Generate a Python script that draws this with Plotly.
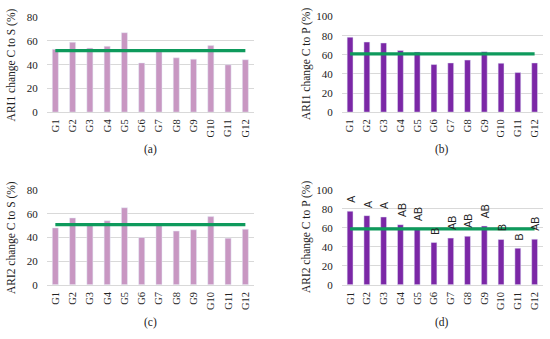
import plotly.graph_objects as go

groups = ["G1", "G2", "G3", "G4", "G5", "G6", "G7", "G8", "G9", "G10", "G11", "G12"]

ari1_c_to_s = [53, 59, 54, 55.5, 67, 41.5, 52, 45.8, 44.7, 56.1, 39.9, 44.2]
ari1_c_to_s_mean = 51.8
ari1_c_to_p = [78.5, 73.4, 72.4, 64.6, 63, 49.8, 51.5, 54.5, 63.3, 51.2, 41.4, 51.5]
ari1_c_to_p_mean = 61
ari2_c_to_s = [48, 56.4, 51.3, 54, 65, 39.9, 50.7, 45.3, 46.4, 57.5, 39.3, 46.9]
ari2_c_to_s_mean = 50.7
ari2_c_to_p = [77.6, 72.9, 71.5, 63.4, 59, 44.7, 49.2, 51.2, 62, 47.8, 38.6, 48.1]
ari2_c_to_p_mean = 59
ari2_c_to_p_letters = ["A", "A", "A", "AB", "AB", "B", "AB", "AB", "AB", "B", "B", "AB"]

PINK = "#C897C2"
PURPLE = "#7B27A6"
GREEN = "#0E9A5C"
SERIF = "Liberation Serif"

W, H = 550, 339


def fx(px):
    return px / W


def fy(py):
    return 1 - py / H


panels = [
    # values, mean, color, ymax, title, label, x pixel span, y pixel span (top, bottom)
    (ari1_c_to_s, ari1_c_to_s_mean, PINK, 80, "ARI1 change C to S (%)", "(a)",
     (46.7, 254), (11.7, 110)),
    (ari1_c_to_p, ari1_c_to_p_mean, PURPLE, 100, "ARI1 change C to P (%)", "(b)",
     (341.7, 543), (11, 110)),
    (ari2_c_to_s, ari2_c_to_s_mean, PINK, 80, "ARI2 change C to S (%)", "(c)",
     (46.7, 254), (190.7, 289)),
    (ari2_c_to_p, ari2_c_to_p_mean, PURPLE, 100, "ARI2 change C to P (%)", "(d)",
     (341.7, 543), (190.7, 289)),
]

fig = go.Figure()
annotations = []
layout = {}
for i, (vals, mean, color, ymax, title, label, xs, ys) in enumerate(panels, start=1):
    xa = "x" if i == 1 else f"x{i}"
    ya = "y" if i == 1 else f"y{i}"
    xd = [fx(xs[0]), fx(xs[1])]
    yd = [fy(ys[1]), fy(ys[0])]
    fig.add_trace(go.Bar(x=groups, y=vals, marker_color=color, width=0.35,
                         xaxis=xa, yaxis=ya, showlegend=False))
    fig.add_trace(go.Scatter(x=groups, y=[mean] * len(groups), mode="lines",
                             line=dict(color=GREEN, width=3.2),
                             xaxis=xa, yaxis=ya, showlegend=False))
    layout[f"xaxis{'' if i == 1 else i}"] = dict(
        domain=xd, anchor=ya, type="category", range=[-0.5, 11.5],
        tickangle=-90, tickfont=dict(family=SERIF, size=10.5, color="#222"),
        showgrid=False, showline=True, linecolor="#D9D9D9", linewidth=1,
        ticks="", ticklabelstandoff=2,
    )
    layout[f"yaxis{'' if i == 1 else i}"] = dict(
        domain=yd, anchor=xa, range=[0, ymax], dtick=20,
        tickfont=dict(family=SERIF, size=11, color="#222"),
        showgrid=True, gridcolor="#D9D9D9", gridwidth=1, zeroline=False,
        showline=False, ticks="", ticklabelstandoff=8,
    )
    # y-axis title
    annotations.append(dict(
        text=title, textangle=-90, xref="paper", yref="paper",
        x=fx(xs[0] - 35), y=(yd[0] + yd[1]) / 2, xanchor="center", yanchor="middle",
        showarrow=False, font=dict(family=SERIF, size=11.5, color="#222"),
    ))
    # panel label
    annotations.append(dict(
        text=label, xref="paper", yref="paper",
        x=(xd[0] + xd[1]) / 2, y=fy(ys[1] + 39), xanchor="center", yanchor="middle",
        showarrow=False, font=dict(family=SERIF, size=11.5, color="#222"),
    ))

# significance letters on panel (d)
for g, v, letter in zip(groups, ari2_c_to_p, ari2_c_to_p_letters):
    annotations.append(dict(
        text=letter, x=g, y=v, xref="x4", yref="y4", textangle=-90,
        xanchor="center", yanchor="bottom", yshift=6, xshift=1, showarrow=False,
        font=dict(family="Liberation Sans", size=10.5, color="#222"),
    ))

fig.update_layout(
    width=W, height=H, margin=dict(l=0, r=0, t=0, b=0),
    paper_bgcolor="white", plot_bgcolor="white", hovermode=False,
    annotations=annotations, **layout,
)

fig.write_html("out.html", config={"displayModeBar": False},
               post_script="document.body.style.margin='0';")
